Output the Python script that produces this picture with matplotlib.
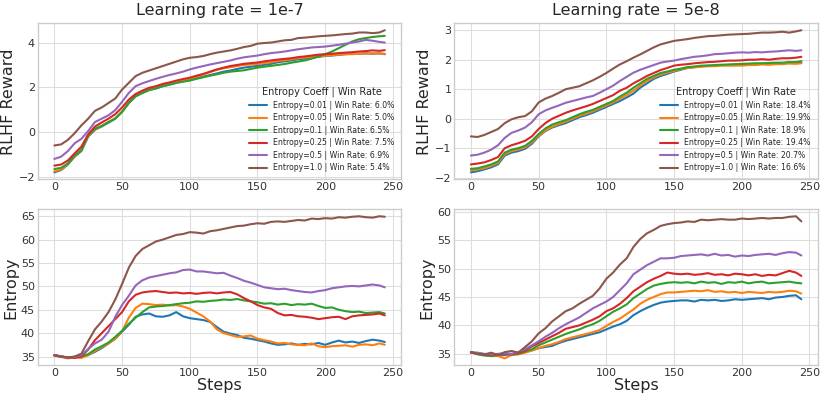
import matplotlib
matplotlib.use("Agg")
import matplotlib.pyplot as plt
from matplotlib.ticker import MultipleLocator

plt.style.use("seaborn-v0_8-whitegrid")
plt.rcParams['font.family'] = ['DejaVu Sans']

steps = [0, 5, 10, 15, 20, 25, 30, 35, 40, 45,
         50, 55, 60, 65, 70, 75, 80, 85, 90, 95,
         100, 105, 110, 115, 120, 125, 130, 135, 140, 145,
         150, 155, 160, 165, 170, 175, 180, 185, 190, 195,
         200, 205, 210, 215, 220, 225, 230, 235, 240, 244]

coeffs = ['0.01', '0.05', '0.1', '0.25', '0.5', '1.0']
win_1e7 = ['6.0', '5.0', '6.5', '7.5', '6.9', '5.4']
win_5e8 = ['18.4', '19.9', '18.9', '19.4', '20.7', '16.6']
colors = ['#1f77b4', '#ff7f0e', '#2ca02c', '#d62728', '#9467bd', '#8c564b']

# reward, lr = 1e-7
rew7_001 = [-1.8, -1.7, -1.45, -1.1, -0.85, -0.2, 0.1, 0.25, 0.42, 0.6,
            0.9, 1.3, 1.6, 1.75, 1.88, 1.95, 2.05, 2.12, 2.2, 2.28,
            2.33, 2.4, 2.48, 2.55, 2.62, 2.7, 2.75, 2.82, 2.88, 2.92,
            2.96, 3.0, 3.05, 3.12, 3.16, 3.2, 3.25, 3.28, 3.32, 3.36,
            3.4, 3.42, 3.45, 3.48, 3.5, 3.5, 3.52, 3.5, 3.52, 3.48]
rew7_005 = [-1.75, -1.68, -1.42, -1.08, -0.82, -0.18, 0.12, 0.27, 0.45, 0.62,
            0.92, 1.32, 1.62, 1.77, 1.9, 1.98, 2.08, 2.15, 2.22, 2.3,
            2.38, 2.48, 2.58, 2.68, 2.78, 2.85, 2.9, 2.95, 3.0, 3.02,
            3.04, 3.08, 3.12, 3.18, 3.21, 3.25, 3.3, 3.33, 3.36, 3.38,
            3.41, 3.44, 3.46, 3.48, 3.48, 3.5, 3.5, 3.52, 3.5, 3.5]
rew7_01 = [-1.65, -1.6, -1.4, -1.05, -0.8, -0.15, 0.15, 0.28, 0.45, 0.6,
           0.9, 1.3, 1.6, 1.75, 1.88, 1.95, 2.05, 2.12, 2.2, 2.25,
           2.3, 2.38, 2.45, 2.52, 2.58, 2.65, 2.7, 2.73, 2.76, 2.82,
           2.88, 2.92, 2.96, 3.0, 3.04, 3.1, 3.15, 3.2, 3.28, 3.38,
           3.48, 3.6, 3.75, 3.9, 4.05, 4.15, 4.2, 4.25, 4.28, 4.3]
rew7_025 = [-1.5, -1.45, -1.27, -0.95, -0.65, -0.1, 0.25, 0.43, 0.6, 0.8,
            1.1, 1.45, 1.7, 1.85, 1.98, 2.05, 2.15, 2.22, 2.3, 2.37,
            2.43, 2.52, 2.6, 2.7, 2.8, 2.88, 2.95, 3.0, 3.05, 3.08,
            3.11, 3.16, 3.2, 3.24, 3.27, 3.3, 3.35, 3.38, 3.42, 3.46,
            3.48, 3.5, 3.53, 3.55, 3.57, 3.6, 3.62, 3.65, 3.63, 3.66]
rew7_05 = [-1.2, -1.1, -0.85, -0.5, -0.3, 0.05, 0.45, 0.6, 0.75, 0.98,
           1.35, 1.75, 2.05, 2.18, 2.28, 2.38, 2.47, 2.55, 2.62, 2.7,
           2.8, 2.88, 2.95, 3.02, 3.08, 3.14, 3.2, 3.28, 3.34, 3.38,
           3.42, 3.48, 3.53, 3.56, 3.6, 3.65, 3.7, 3.74, 3.78, 3.8,
           3.82, 3.86, 3.9, 3.95, 4.0, 4.05, 4.12, 4.08, 4.03, 4.0]
rew7_10 = [-0.6, -0.55, -0.35, -0.05, 0.3, 0.6, 0.95, 1.1, 1.3, 1.5,
           1.9, 2.2, 2.5, 2.65, 2.75, 2.85, 2.95, 3.05, 3.15, 3.25,
           3.32, 3.35, 3.4, 3.48, 3.55, 3.6, 3.65, 3.72, 3.8, 3.85,
           3.95, 3.98, 4.0, 4.05, 4.1, 4.12, 4.2, 4.22, 4.25, 4.28,
           4.3, 4.32, 4.35, 4.38, 4.4, 4.45, 4.45, 4.42, 4.45, 4.55]

# reward, lr = 5e-8
rew8_001 = [-1.82, -1.78, -1.72, -1.65, -1.55, -1.25, -1.15, -1.1, -1.02, -0.85,
            -0.6, -0.42, -0.3, -0.22, -0.15, -0.05, 0.05, 0.12, 0.2, 0.3,
            0.4, 0.5, 0.6, 0.72, 0.85, 1.05, 1.2, 1.35, 1.45, 1.52,
            1.6, 1.66, 1.72, 1.75, 1.78, 1.8, 1.8, 1.82, 1.82, 1.83,
            1.82, 1.84, 1.85, 1.86, 1.85, 1.87, 1.88, 1.9, 1.9, 1.92]
rew8_005 = [-1.75, -1.72, -1.68, -1.6, -1.5, -1.2, -1.1, -1.05, -0.97, -0.8,
            -0.58, -0.4, -0.27, -0.18, -0.1, 0.0, 0.1, 0.17, 0.25, 0.35,
            0.45, 0.55, 0.68, 0.8, 0.95, 1.12, 1.28, 1.4, 1.5, 1.56,
            1.62, 1.68, 1.72, 1.74, 1.76, 1.78, 1.78, 1.8, 1.8, 1.8,
            1.8, 1.82, 1.82, 1.84, 1.83, 1.85, 1.85, 1.87, 1.86, 1.88]
rew8_01 = [-1.7, -1.68, -1.62, -1.55, -1.45, -1.15, -1.05, -1.0, -0.92, -0.75,
           -0.52, -0.33, -0.2, -0.12, -0.05, 0.05, 0.15, 0.23, 0.3, 0.4,
           0.5, 0.6, 0.75, 0.88, 1.05, 1.2, 1.35, 1.45, 1.55, 1.6,
           1.66, 1.7, 1.75, 1.77, 1.8, 1.8, 1.82, 1.83, 1.84, 1.85,
           1.86, 1.87, 1.88, 1.88, 1.89, 1.9, 1.9, 1.92, 1.92, 1.95]
rew8_025 = [-1.55, -1.52, -1.48, -1.4, -1.3, -1.0, -0.9, -0.83, -0.75, -0.6,
            -0.35, -0.15, 0.0, 0.1, 0.2, 0.28, 0.35, 0.42, 0.5, 0.6,
            0.7, 0.8, 0.95, 1.05, 1.2, 1.32, 1.45, 1.55, 1.65, 1.72,
            1.8, 1.83, 1.85, 1.88, 1.9, 1.92, 1.93, 1.95, 1.97, 1.97,
            1.98, 2.0, 2.0, 2.02, 2.0, 2.03, 2.05, 2.05, 2.07, 2.1]
rew8_05 = [-1.25, -1.22, -1.15, -1.05, -0.9, -0.65, -0.48, -0.4, -0.3, -0.12,
           0.15, 0.28, 0.37, 0.45, 0.54, 0.6, 0.66, 0.72, 0.77, 0.88,
           1.0, 1.12, 1.28, 1.42, 1.56, 1.66, 1.74, 1.82, 1.9, 1.94,
           1.97, 2.02, 2.06, 2.1, 2.12, 2.15, 2.19, 2.2, 2.22, 2.24,
           2.25, 2.24, 2.26, 2.25, 2.27, 2.28, 2.3, 2.32, 2.3, 2.32]
rew8_10 = [-0.6, -0.62, -0.55, -0.45, -0.35, -0.15, -0.02, 0.05, 0.09, 0.25,
           0.55, 0.68, 0.77, 0.88, 1.0, 1.05, 1.1, 1.2, 1.3, 1.42,
           1.55, 1.7, 1.84, 1.95, 2.07, 2.18, 2.3, 2.42, 2.52, 2.58,
           2.64, 2.67, 2.7, 2.74, 2.77, 2.8, 2.81, 2.83, 2.85, 2.86,
           2.87, 2.88, 2.9, 2.92, 2.92, 2.93, 2.95, 2.92, 2.96, 3.0]

# entropy, lr = 1e-7
ent7_001 = [35.3, 35.0, 34.7, 34.9, 35.0, 35.3, 36.0, 36.8, 37.8, 38.8,
            40.3, 41.8, 43.5, 44.0, 44.2, 43.6, 43.5, 43.8, 44.5, 43.6,
            43.2, 43.0, 42.8, 42.4, 41.3, 40.3, 39.9, 39.6, 39.0, 38.8,
            38.5, 38.2, 37.8, 37.5, 37.6, 37.8, 37.5, 37.7, 37.6, 37.9,
            37.5, 38.0, 38.4, 38.0, 38.2, 37.9, 38.3, 38.6, 38.4, 38.1]
ent7_005 = [35.2, 34.9, 34.6, 34.8, 34.7, 35.3, 36.2, 37.0, 37.8, 38.8,
            40.4, 43.3, 45.4, 46.3, 46.2, 46.0, 46.1, 45.9, 46.0, 45.7,
            45.2, 44.4, 43.6, 42.5, 40.8, 40.0, 39.6, 39.2, 39.3, 39.5,
            38.8, 38.5, 38.2, 37.8, 37.9, 37.6, 37.5, 37.4, 37.8, 37.2,
            37.0, 37.2, 37.3, 37.4, 37.1, 37.5, 37.6, 37.4, 37.8, 37.5]
ent7_01 = [35.3, 35.0, 34.8, 34.9, 35.0, 35.5, 36.5, 37.2, 38.0, 39.2,
           40.5, 42.0, 43.3, 44.5, 45.5, 45.7, 45.8, 46.0, 46.2, 46.4,
           46.5, 46.8, 46.7, 46.9, 47.0, 47.2, 47.1, 47.3, 47.0, 46.8,
           46.6, 46.3, 46.4, 46.1, 46.3, 46.0, 46.2, 46.1, 46.3, 45.8,
           45.4, 45.5, 45.0, 44.7, 44.5, 44.6, 44.3, 44.4, 44.5, 44.2]
ent7_025 = [35.2, 35.0, 34.8, 34.7, 35.0, 36.5, 38.5, 40.0, 41.5, 43.0,
            44.5, 46.8, 48.2, 48.7, 48.9, 49.0, 48.8, 48.6, 48.7, 48.5,
            48.6, 48.4, 48.6, 48.7, 48.5, 48.7, 48.8, 48.3, 47.5, 46.8,
            46.0, 45.5, 45.2, 44.3, 43.8, 43.9, 43.6, 43.5, 43.3, 43.0,
            43.2, 43.4, 43.5, 43.0, 43.6, 43.8, 43.9, 44.0, 44.2, 43.8]
ent7_05 = [35.3, 35.0, 34.8, 34.9, 35.3, 36.6, 37.8, 38.6, 40.3, 43.5,
           46.0, 48.0, 50.2, 51.3, 51.9, 52.2, 52.5, 52.8, 53.0, 53.5,
           53.6, 53.2, 53.2, 53.0, 52.8, 52.9, 52.3, 51.8, 51.2, 50.8,
           50.3, 49.8, 49.6, 49.4, 49.5, 49.2, 49.0, 48.8, 48.7, 49.0,
           49.2, 49.6, 49.8, 50.0, 50.1, 50.0, 50.2, 50.4, 50.2, 49.8]
ent7_10 = [35.3, 35.0, 34.8, 35.0, 35.6, 38.3, 40.8, 42.5, 44.5, 47.2,
           50.5, 54.0, 56.5, 58.0, 58.8, 59.6, 60.0, 60.5, 61.0, 61.2,
           61.6, 61.5, 61.3, 61.8, 62.0, 62.3, 62.6, 62.9, 63.0, 63.3,
           63.5, 63.4, 63.8, 63.9, 63.8, 64.0, 64.2, 64.1, 64.5, 64.4,
           64.6, 64.5, 64.8, 64.7, 64.9, 65.0, 64.8, 64.7, 65.0, 64.9]

# entropy, lr = 5e-8
ent8_001 = [35.3, 35.0, 34.8, 34.9, 34.7, 34.8, 34.9, 35.0, 35.3, 35.6,
            36.0, 36.2, 36.4, 36.9, 37.3, 37.6, 37.9, 38.2, 38.5, 38.8,
            39.3, 39.8, 40.2, 40.8, 41.8, 42.5, 43.1, 43.6, 44.0, 44.2,
            44.3, 44.4, 44.4, 44.2, 44.5, 44.4, 44.5, 44.3, 44.4, 44.6,
            44.5, 44.6, 44.7, 44.8, 44.6, 44.9, 45.0, 45.2, 45.3, 44.6]
ent8_005 = [35.2, 35.0, 34.8, 34.6, 34.6, 34.2, 34.8, 34.9, 35.2, 35.6,
            36.0, 36.4, 36.7, 37.1, 37.6, 37.9, 38.2, 38.5, 38.8, 39.2,
            39.9, 40.6, 41.2, 42.0, 42.8, 43.8, 44.5, 45.0, 45.5, 45.8,
            45.8, 45.9, 46.0, 46.1, 46.0, 46.2, 45.9, 46.0, 45.8, 45.9,
            45.7, 45.9, 45.8, 45.7, 45.9, 45.8, 45.9, 46.1, 46.0, 45.6]
ent8_01 = [35.3, 34.9, 34.7, 34.6, 34.8, 35.0, 34.9, 35.0, 35.4, 35.8,
           36.5, 37.0, 37.5, 38.0, 38.5, 38.9, 39.3, 39.8, 40.2, 40.8,
           41.6, 42.4, 43.0, 43.7, 44.8, 45.6, 46.4, 47.0, 47.3, 47.5,
           47.6, 47.5, 47.6, 47.4, 47.7, 47.5, 47.6, 47.3, 47.6, 47.5,
           47.7, 47.4, 47.6, 47.7, 47.4, 47.5, 47.6, 47.7, 47.5, 47.4]
ent8_025 = [35.2, 35.1, 34.9, 34.8, 34.9, 35.0, 34.9, 35.1, 35.6, 36.3,
            36.9, 37.5, 38.1, 38.7, 39.4, 39.7, 40.0, 40.5, 41.0, 41.6,
            42.5, 43.0, 43.8, 44.8, 46.0, 46.8, 47.6, 48.2, 48.7, 49.3,
            49.1, 49.0, 49.1, 48.9, 49.0, 49.2, 48.9, 49.0, 48.8, 49.1,
            49.0, 48.8, 49.0, 48.7, 48.9, 48.8, 49.2, 49.6, 49.3, 48.7]
ent8_05 = [35.3, 35.2, 35.0, 34.9, 35.0, 35.1, 35.0, 35.3, 35.8, 36.5,
           37.2, 38.0, 38.7, 39.5, 40.2, 40.8, 41.4, 42.2, 43.0, 43.6,
           44.2, 45.0, 46.2, 47.4, 49.0, 49.8, 50.6, 51.2, 51.8, 51.8,
           51.9, 52.2, 52.3, 52.4, 52.5, 52.3, 52.6, 52.3, 52.4, 52.1,
           52.3, 52.2, 52.4, 52.5, 52.6, 52.4, 52.7, 52.9, 52.8, 52.3]
ent8_10 = [35.3, 35.0, 34.9, 35.2, 34.8, 35.3, 35.5, 35.2, 36.2, 37.2,
           38.6, 39.5, 40.7, 41.6, 42.5, 43.0, 43.8, 44.5, 45.2, 46.5,
           48.2, 49.3, 50.7, 51.8, 53.8, 55.2, 56.2, 56.8, 57.5, 57.8,
           58.0, 58.1, 58.3, 58.2, 58.6, 58.5, 58.6, 58.7, 58.6, 58.6,
           58.8, 58.7, 58.8, 58.9, 58.8, 58.9, 58.9, 59.1, 59.2, 58.3]

reward_1e7 = [rew7_001, rew7_005, rew7_01, rew7_025, rew7_05, rew7_10]
reward_5e8 = [rew8_001, rew8_005, rew8_01, rew8_025, rew8_05, rew8_10]
entropy_1e7 = [ent7_001, ent7_005, ent7_01, ent7_025, ent7_05, ent7_10]
entropy_5e8 = [ent8_001, ent8_005, ent8_01, ent8_025, ent8_05, ent8_10]

fig, axes = plt.subplots(2, 2, figsize=(8.22, 3.99), dpi=100)
fig.subplots_adjust(left=0.046, right=0.995, top=0.942, bottom=0.084,
                    wspace=0.146, hspace=0.19)

panels = [
    (axes[0, 0], reward_1e7, win_1e7),
    (axes[0, 1], reward_5e8, win_5e8),
    (axes[1, 0], entropy_1e7, None),
    (axes[1, 1], entropy_5e8, None),
]

for ax, series, wins in panels:
    for i, ys in enumerate(series):
        label = None
        if wins is not None:
            label = f"Entropy={coeffs[i]} | Win Rate: {wins[i]}%"
        ax.plot(steps, ys, color=colors[i], lw=1.5, label=label)
    ax.tick_params(labelsize=8, colors='#333333', pad=2)
    for sp in ax.spines.values():
        sp.set_color('#cccccc')
    ax.grid(color='#dddddd', lw=0.8)
    if wins is not None:
        ax.legend(title="Entropy Coeff | Win Rate", loc='lower right',
                  fontsize=5.6, title_fontsize=7, frameon=False,
                  handlelength=2.3, labelspacing=0.45)

# reward axis for 1e-7 ticks every 2
axes[0, 0].yaxis.set_major_locator(MultipleLocator(2))

axes[0, 0].set_title("Learning rate = 1e-7", fontsize=11.5, color='#262626')
axes[0, 1].set_title("Learning rate = 5e-8", fontsize=11.5, color='#262626')
axes[0, 0].set_ylabel("RLHF Reward", fontsize=11.5, color='#262626', labelpad=2)
axes[0, 1].set_ylabel("RLHF Reward", fontsize=11.5, color='#262626', labelpad=2)
axes[1, 0].set_ylabel("Entropy", fontsize=11.5, color='#262626', labelpad=2)
axes[1, 1].set_ylabel("Entropy", fontsize=11.5, color='#262626', labelpad=2)
axes[1, 0].set_xlabel("Steps", fontsize=11.5, color='#262626', labelpad=0)
axes[1, 1].set_xlabel("Steps", fontsize=11.5, color='#262626', labelpad=0)

fig.savefig("out.png", dpi=100)
